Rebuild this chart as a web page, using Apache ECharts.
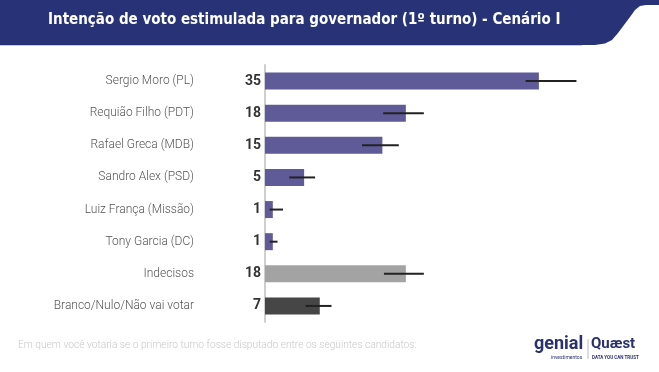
<!DOCTYPE html>
<html><head><meta charset="utf-8">
<script src="https://cdn.jsdelivr.net/npm/echarts@6/dist/echarts.min.js"></script>
<style>html,body{margin:0;padding:0;background:#fff}#c{width:659px;height:372px}</style>
</head><body><div id="c"></div>
<script>
const categories = ['Sergio Moro (PL)','Requião Filho (PDT)','Rafael Greca (MDB)','Sandro Alex (PSD)','Luiz França (Missão)','Tony Garcia (DC)','Indecisos','Branco/Nulo/Não vai votar'];
const values = [35,18,15,5,1,1,18,7];
const errLow = [33.3,15.1,12.4,3.1,0.6,0.6,15.2,5.2];
const errHigh = [39.8,20.3,17.1,6.4,2.3,1.6,20.3,8.5];
const barColors = ['#5f5b99','#5f5b99','#5f5b99','#5f5b99','#5f5b99','#5f5b99','#a3a3a3','#464646'];
const titleText = 'Intenção de voto estimulada para governador (1º turno) - Cenário I';
const footerText = 'Em quem você votaria se o primeiro turno fosse disputado entre os seguintes candidatos:';

const chart = echarts.init(document.getElementById('c'));
chart.setOption({
  animation:false,
  backgroundColor:'#fff',
  grid:{left:265,top:65,width:313,height:257,containLabel:false},
  xAxis:{type:'value',min:0,max:40,show:false},
  yAxis:{type:'category',data:categories,inverse:true,
    axisLine:{show:true,lineStyle:{color:'#cfcfcf',width:2}},
    axisTick:{show:false},
    axisLabel:{margin:71,color:'#555',fontSize:12,fontFamily:'Roboto',fontWeight:300}},
  series:[
    {type:'bar',barWidth:17,
     data:values.map((v,i)=>({value:v,itemStyle:{color:barColors[i]}})),
     label:{show:true,position:'left',distance:4,color:'#333',fontSize:14,fontWeight:'bold',fontFamily:'Roboto'}},
    {type:'custom',
     data:values.map((v,i)=>[i,errLow[i],errHigh[i]]),
     encode:{x:[1,2],y:0},
     renderItem:function(params,api){
       const lo=api.coord([api.value(1),api.value(0)]);
       const hi=api.coord([api.value(2),api.value(0)]);
       return {type:'line',shape:{x1:lo[0],y1:lo[1],x2:hi[0],y2:hi[1]},style:{stroke:'#222',lineWidth:2}};
     },z:5}
  ],
  graphic:[
    {type:'polygon',shape:{points:[[0,0],[659,0],[659,5],[646,5],[640,6],[635,10],[630,17],[618,33],[612,40],[605,43.5],[595,45],[580,45],[0,45]]},style:{fill:'#283377'},z:1},
    {type:'line',shape:{x1:0,y1:45.5,x2:582,y2:45.5},style:{stroke:'#c9cbd8',lineWidth:1},z:1},
    {type:'text',left:48,top:13,style:{text:titleText,fill:'#fff',fontSize:15,fontWeight:'bold',fontFamily:'"Liberation Sans Narrow","DejaVu Sans Condensed",Roboto'},z:2},
    {type:'text',left:18,top:340,style:{text:footerText,fill:'#c8c8c8',fontSize:10.2,fontFamily:'Roboto',fontWeight:300}},
    {type:'text',left:534,top:335,style:{text:'genial',fill:'#2b3170',fontSize:18,fontWeight:'bold',fontFamily:'Roboto'}},
    {type:'text',left:551,top:355,style:{text:'investimentos',fill:'#2b3170',fontSize:5,fontFamily:'Roboto'}},
    {type:'line',shape:{x1:588,y1:339,x2:588,y2:359},style:{stroke:'#bbb',lineWidth:1}},
    {type:'text',left:591,top:337,style:{text:'Quæst',fill:'#2b3170',fontSize:15,fontWeight:'bold',fontFamily:'Roboto'}},
    {type:'text',left:592,top:355,style:{text:'DATA YOU CAN TRUST',fill:'#2b3170',fontSize:4.5,fontWeight:'bold',fontFamily:'Roboto'}}
  ]
});
</script></body></html>
